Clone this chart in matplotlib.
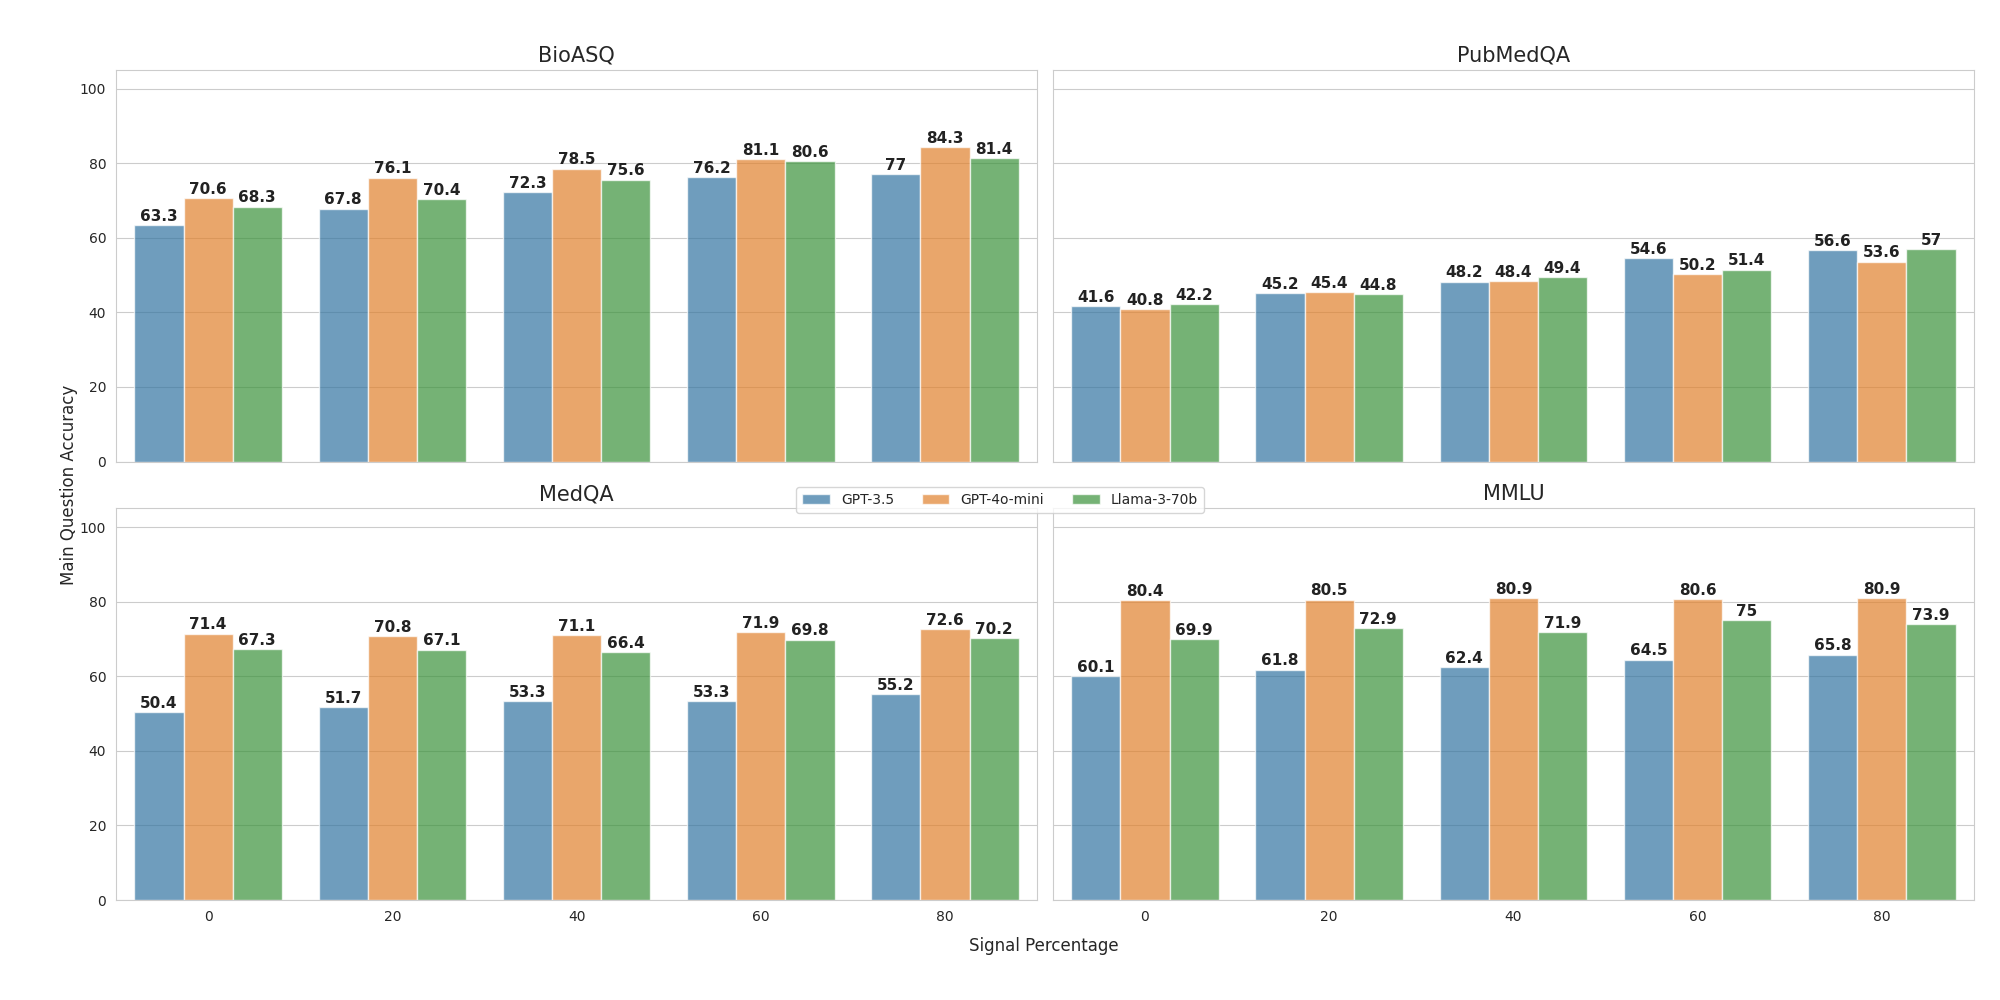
import numpy as np
import matplotlib
matplotlib.use("Agg")
import matplotlib.pyplot as plt
import seaborn as sns

sns.set_style("whitegrid")

signal = [0, 20, 40, 60, 80]
models = ["GPT-3.5", "GPT-4o-mini", "Llama-3-70b"]
colors = [sns.desaturate(c, 0.75) for c in ["#1f77b4", "#ff7f0e", "#2ca02c"]]

bioasq_gpt35 = [63.3, 67.8, 72.3, 76.2, 77]
bioasq_gpt4o = [70.6, 76.1, 78.5, 81.1, 84.3]
bioasq_llama = [68.3, 70.4, 75.6, 80.6, 81.4]

pubmedqa_gpt35 = [41.6, 45.2, 48.2, 54.6, 56.6]
pubmedqa_gpt4o = [40.8, 45.4, 48.4, 50.2, 53.6]
pubmedqa_llama = [42.2, 44.8, 49.4, 51.4, 57]

medqa_gpt35 = [50.4, 51.7, 53.3, 53.3, 55.2]
medqa_gpt4o = [71.4, 70.8, 71.1, 71.9, 72.6]
medqa_llama = [67.3, 67.1, 66.4, 69.8, 70.2]

mmlu_gpt35 = [60.1, 61.8, 62.4, 64.5, 65.8]
mmlu_gpt4o = [80.4, 80.5, 80.9, 80.6, 80.9]
mmlu_llama = [69.9, 72.9, 71.9, 75, 73.9]

datasets = {
    "BioASQ": [bioasq_gpt35, bioasq_gpt4o, bioasq_llama],
    "PubMedQA": [pubmedqa_gpt35, pubmedqa_gpt4o, pubmedqa_llama],
    "MedQA": [medqa_gpt35, medqa_gpt4o, medqa_llama],
    "MMLU": [mmlu_gpt35, mmlu_gpt4o, mmlu_llama],
}

fig, axes = plt.subplots(2, 2, figsize=(20, 10), sharex=True, sharey=True)
plt.subplots_adjust(left=0.058, right=0.987, top=0.93, bottom=0.1, hspace=0.12, wspace=0.017)

x = np.arange(len(signal))
w = 0.8 / 3
for ax, (name, series) in zip(axes.flat, datasets.items()):
    for i, (vals, m, c) in enumerate(zip(series, models, colors)):
        bars = ax.bar(x + (i - 1) * w, vals, w, color=c, alpha=0.7,
                      edgecolor="white", linewidth=1, label=m)
        ax.bar_label(bars, labels=[f"{v:g}" for v in vals], fontsize=11,
                     fontweight="bold", padding=1, color="#222222")
    ax.set_title(name, fontsize=15)
    ax.set_ylim(0, 105)
    ax.set_yticks([0, 20, 40, 60, 80, 100])
    ax.set_xticks(x)
    ax.set_xticklabels([str(s) for s in signal])
    ax.set_xlim(-0.5, len(signal) - 0.5)
    ax.tick_params(labelsize=10)
    ax.xaxis.grid(False)

handles, labels = axes[0, 0].get_legend_handles_labels()
fig.legend(handles, labels, loc="center", bbox_to_anchor=(0.5, 0.5), ncol=3, fontsize=10, frameon=True)
fig.supylabel("Main Question Accuracy", fontsize=12, x=0.03, y=0.515)
fig.supxlabel("Signal Percentage", fontsize=12, x=0.522, y=0.045)

plt.savefig("out.png", dpi=100)
